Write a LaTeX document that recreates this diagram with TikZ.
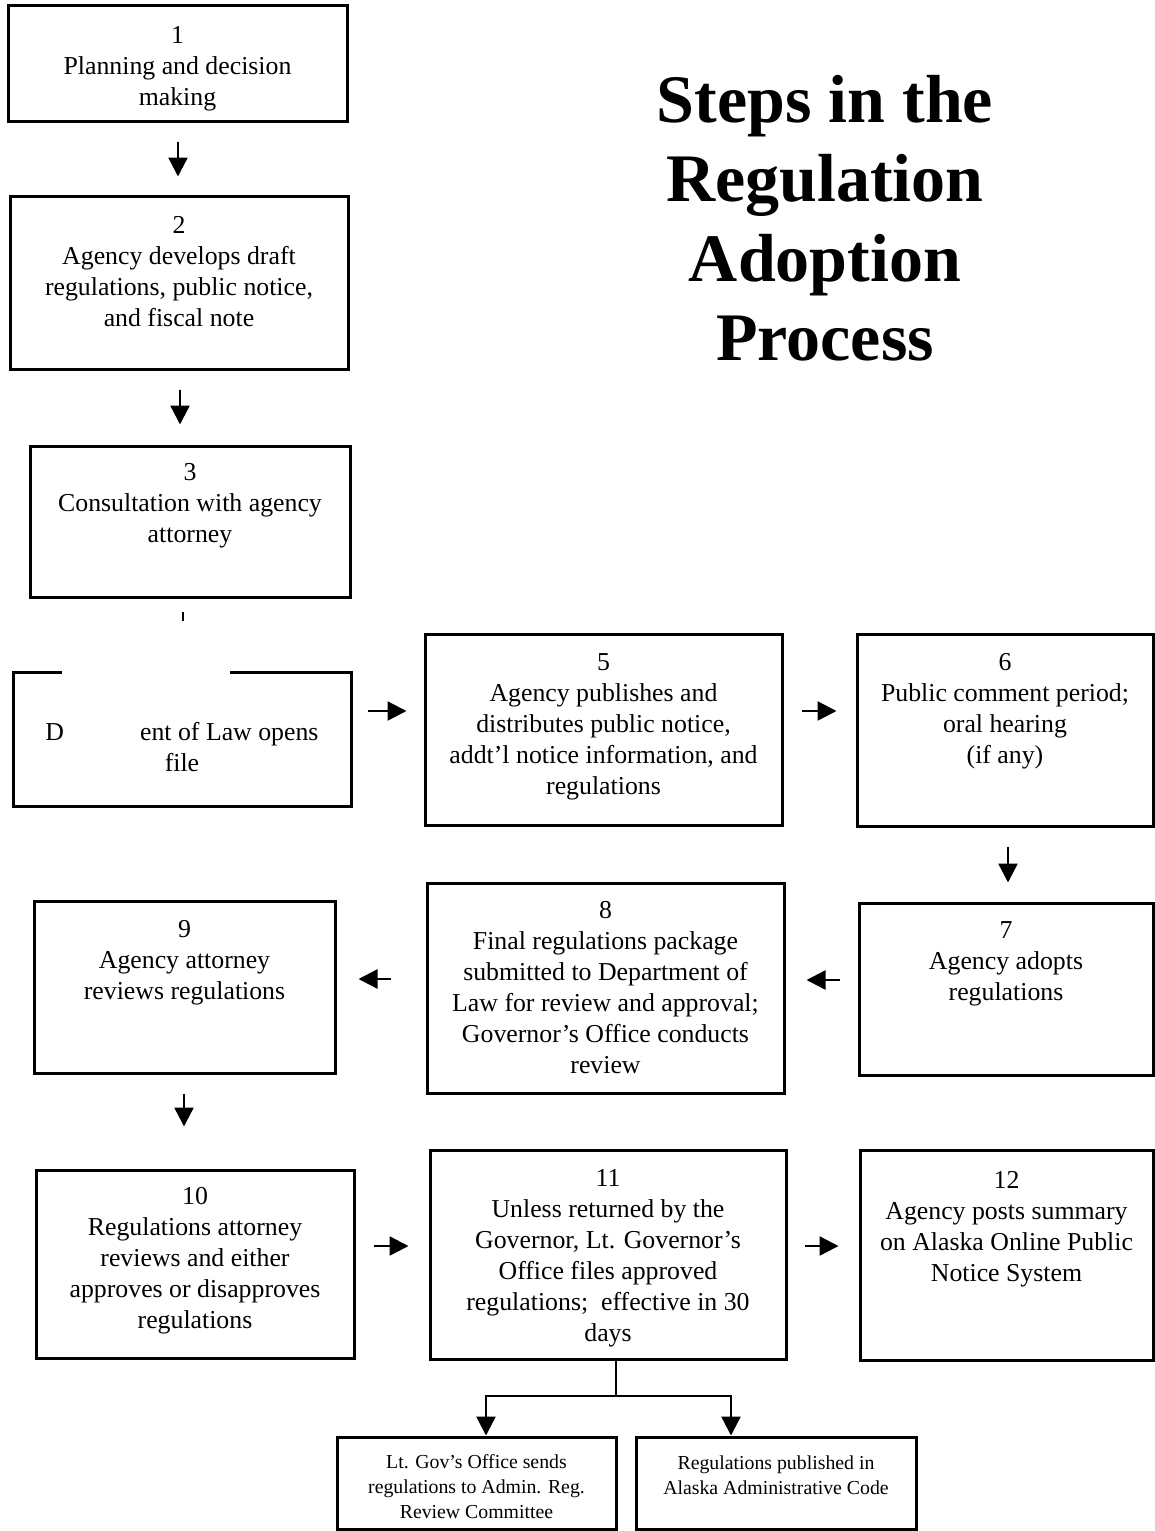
\documentclass[tikz,border=0pt]{standalone}
\usepackage{fontspec}
\setmainfont{Liberation Serif}
\usetikzlibrary{arrows.meta}
\begin{document}
\begin{tikzpicture}[x=0.5pt,y=-0.5pt,
  box/.style={draw, line width=1.5pt, inner sep=0pt},
  nobox/.style={inner sep=0pt},
  sz/.style 2 args={minimum width=#1*0.5pt, minimum height=#2*0.5pt},
  txt/.style={inner sep=0pt, align=center, anchor=north, font=\fontsize{12.9}{15.5}\selectfont},
  smalltxt/.style={inner sep=0pt, align=center, anchor=north, font=\fontsize{9.9}{12.5}\selectfont},
  arr/.style={line width=1.2pt, -{Triangle[length=9.5pt,width=9.5pt]}},
  lnk/.style={line width=1pt}
]
\useasboundingbox (0,0) rectangle (1155,1531);
% title
\node[inner sep=0pt, anchor=north, align=center, font=\fontsize{34}{39.7}\selectfont\bfseries] (title) at (825,75)
  {Steps in the\\Regulation\\Adoption\\Process};
% boxes
\node[box, sz={339}{116}] (b1) at (177.5,63) {};
\node[box, sz={338}{173}] (b2) at (179,282.5) {};
\node[box, sz={320}{151}] (b3) at (190,521.5) {};
\node[nobox, sz={338}{134}] (b4) at (182,739) {};
\draw[line width=1.5pt] (62,672) -- (13,672) -- (13,806) -- (351,806) -- (351,672) -- (230,672);
\node[box, sz={357}{191}] (b5) at (603.5,729.5) {};
\node[box, sz={296}{192}] (b6) at (1005,730) {};
\node[box, sz={294}{172}] (b7) at (1006,989) {};
\node[box, sz={357}{210}] (b8) at (605.5,988) {};
\node[box, sz={301}{172}] (b9) at (184.5,987) {};
\node[box, sz={318}{188}] (b10) at (195,1264) {};
\node[box, sz={356}{209}] (b11) at (608,1254.5) {};
\node[box, sz={293}{210}] (b12) at (1006.5,1255) {};
\node[box, sz={279}{92}] (b13) at (476.5,1483) {};
\node[box, sz={280}{92}] (b14) at (776,1483) {};
% texts
\node[txt] (t1) at (177.5,26) {1\\Planning and decision\\making};
\node[txt] (t2) at (179,216) {2\\Agency develops draft\\regulations, public notice,\\and fiscal note};
\node[txt] (t3) at (190,463) {3\\Consultation with agency\\attorney};
\node[txt] (t4) at (182,722) {D\hspace{38pt}ent of Law opens\\file};
\node[txt] (t5) at (603.5,653) {5\\Agency publishes and\\distributes public notice,\\addt'l notice information, and\\regulations};
\node[txt] (t6) at (1005,653) {6\\Public comment period;\\oral hearing\\(if any)};
\node[txt] (t7) at (1006,921) {7\\Agency adopts\\regulations};
\node[txt] (t8) at (605.5,901) {8\\Final regulations package\\submitted to Department of\\Law for review and approval;\\Governor's Office conducts\\review};
\node[txt] (t9) at (184.5,920) {9\\Agency attorney\\reviews regulations};
\node[txt] (t10) at (195,1187) {10\\Regulations attorney\\reviews and either\\approves or disapproves\\regulations};
\node[txt] (t11) at (608,1169) {11\\Unless returned by the\\Governor, Lt. Governor's\\Office files approved\\regulations;\ \ effective in 30\\days};
\node[txt] (t12) at (1006.5,1171) {12\\Agency posts summary\\on Alaska Online Public\\Notice System};
\node[smalltxt] (t13) at (476.5,1454) {Lt. Gov's Office sends\\regulations to Admin. Reg.\\Review Committee};
\node[smalltxt] (t14) at (776,1455) {Regulations published in\\Alaska Administrative Code};
% connectors
\draw[arr, shorten <=9.5pt, shorten >=9pt] (b1.south -| 178,0) -- (b2.north -| 178,0);
\draw[arr, shorten <=9.5pt, shorten >=10pt] (b2.south -| 180,0) -- (b3.north -| 180,0);
\draw[lnk] (183,612) -- (183,621);
\draw[arr, shorten <=8.5pt, shorten >=8.5pt] (b4.east |- 0,711) -- (b5.west |- 0,711);
\draw[arr, shorten <=9pt, shorten >=9.5pt] (b5.east |- 0,711) -- (b6.west |- 0,711);
\draw[arr, shorten <=9.5pt, shorten >=9.5pt] (b6.south -| 1008,0) -- (b7.north -| 1008,0);
\draw[arr, shorten <=9pt, shorten >=10.5pt] (b7.west |- 0,980) -- (b8.east |- 0,980);
\draw[arr, shorten <=17.5pt, shorten >=11pt] (b8.west |- 0,979) -- (b9.east |- 0,979);
\draw[arr, shorten <=9.5pt, shorten >=21pt] (b9.south -| 184,0) -- (b10.north -| 184,0);
\draw[arr, shorten <=9pt, shorten >=10pt] (b10.east |- 0,1246) -- (b11.west |- 0,1246);
\draw[arr, shorten <=8.5pt, shorten >=10pt] (b11.east |- 0,1246) -- (b12.west |- 0,1246);
\coordinate (sp) at (616,1396);
\draw[lnk] (b11.south -| sp) -- (sp);
\draw[arr] (sp) -| (b13.north -| 486,0);
\draw[arr] (sp) -| (b14.north -| 731,0);
\end{tikzpicture}
\end{document}
